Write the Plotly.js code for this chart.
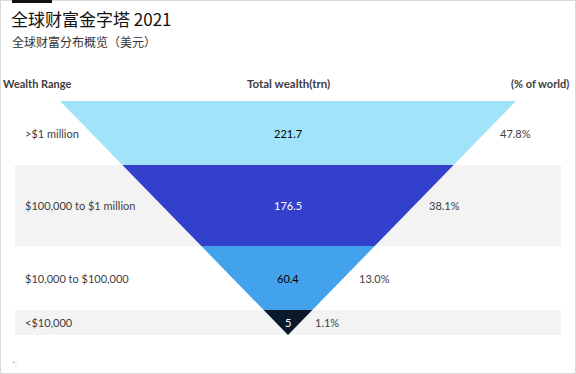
<!DOCTYPE html>
<html>
<head>
<meta charset="utf-8">
<script src="https://cdn.plot.ly/plotly-3.0.1.min.js"></script>
<style>
  html, body { margin: 0; padding: 0; background: #fff; }
  #wrap { position: relative; width: 576px; height: 374px; }
  #chart { width: 576px; height: 374px; }
  #frame { position: absolute; left: 0; top: 0; width: 576px; height: 374px; box-sizing: border-box; border: 1px solid #d9d9d9; pointer-events: none; }
  #bar { position: absolute; left: 12px; top: 0; width: 40px; height: 3px; background: #111; pointer-events: none; }
</style>
</head>
<body>
<div id="wrap">
  <div id="chart"></div>
  <div id="frame"></div>
  <div id="bar"></div>
</div>
<script>
// ---- data ----
const wealthRanges = ['>$1 million', '$100,000 to $1 million', '$10,000 to $100,000', '<$10,000'];
const totalWealth = [221.7, 176.5, 60.4, 5];
const shareOfWorld = [47.8, 38.1, 13.0, 1.1];
const headers = ['Wealth Range', 'Total wealth(trn)', '(% of world)'];
const titleText = '全球财富金字塔 2021';
const subtitleText = '全球财富分布概览（美元）';

// ---- layout constants (band edges in y units, apex = 0) ----
const bandEdges = [234, 170, 89, 25, 0];
const topHalf = 228;
const fillColors = ['#a1e4f9', '#3340cc', '#42a2eb', '#0b1a2b'];
const valueColors = ['#000000', '#ffffff', '#000000', '#ffffff'];
const shaded = [false, true, false, true];
const FONT = 'Lato, "Open Sans", "Liberation Sans", sans-serif';
const CJK = '"Noto Sans CJK SC", "Noto Sans", sans-serif';

function half(h) { return h * topHalf / bandEdges[0]; }

const traces = wealthRanges.map((name, i) => {
  const yTop = bandEdges[i], yBot = bandEdges[i + 1];
  return {
    type: 'scatter', mode: 'lines', fill: 'toself',
    x: [-half(yTop), half(yTop), half(yBot), -half(yBot), -half(yTop)],
    y: [yTop, yTop, yBot, yBot, yTop],
    fillcolor: fillColors[i], line: { width: 0, color: fillColors[i] },
    hoverinfo: 'skip', showlegend: false, name: name
  };
});

const shapes = [];
const annotations = [];
wealthRanges.forEach((name, i) => {
  const yTop = bandEdges[i], yBot = bandEdges[i + 1];
  const mid = (yTop + yBot) / 2;
  if (shaded[i]) {
    shapes.push({ type: 'rect', xref: 'paper', yref: 'y', x0: 0, x1: 1, y0: yBot, y1: yTop,
      fillcolor: '#f3f3f3', line: { width: 0 }, layer: 'below' });
  }
  annotations.push({ xref: 'paper', yref: 'y', x: 0.015, y: mid, xanchor: 'left', yanchor: 'middle',
    text: name, showarrow: false, font: { family: FONT, size: 11, color: '#404040' } });
  annotations.push({ xref: 'x', yref: 'y', x: 0, y: mid, xanchor: 'center', yanchor: 'middle',
    text: totalWealth[i].toString(), showarrow: false, font: { family: FONT, size: 11, color: valueColors[i] } });
  annotations.push({ xref: 'x', yref: 'y', x: half(mid) + 13, y: mid, xanchor: 'left', yanchor: 'middle',
    text: shareOfWorld[i].toFixed(1) + '%', showarrow: false, font: { family: FONT, size: 11, color: '#404040' } });
});

// headers (above the plot area, paper coords)
const hy = 1 + 18 / 234;
annotations.push({ xref: 'paper', yref: 'paper', x: -0.025, y: hy, xanchor: 'left', yanchor: 'middle',
  text: '<b>' + headers[0] + '</b>', showarrow: false, font: { family: FONT, size: 11, color: '#404040' } });
annotations.push({ xref: 'paper', yref: 'paper', x: 0.5, y: hy, xanchor: 'center', yanchor: 'middle',
  text: '<b>' + headers[1] + '</b>', showarrow: false, font: { family: FONT, size: 11.5, color: '#404040' } });
annotations.push({ xref: 'paper', yref: 'paper', x: 1.018, y: hy, xanchor: 'right', yanchor: 'middle',
  text: '<b>' + headers[2] + '</b>', showarrow: false, font: { family: FONT, size: 11, color: '#404040' } });

// subtitle and footnote
annotations.push({ xref: 'paper', yref: 'paper', x: -5 / 546, y: 1 + (101 - 41) / 234, xanchor: 'left', yanchor: 'middle',
  text: subtitleText, showarrow: false, font: { family: CJK, size: 12, color: '#333333' } });
annotations.push({ xref: 'paper', yref: 'paper', x: -5 / 546, y: -(364 - 335) / 234, xanchor: 'left', yanchor: 'middle',
  text: '*:', showarrow: false, font: { family: FONT, size: 7, color: '#aaaaaa' } });

const layout = {
  width: 576, height: 374,
  margin: { l: 15, r: 15, t: 101, b: 39, pad: 0 },
  paper_bgcolor: '#ffffff', plot_bgcolor: 'rgba(0,0,0,0)',
  title: { text: titleText, xref: 'container', yref: 'container', x: 11 / 576, xanchor: 'left',
    y: 1 - 20 / 374, yanchor: 'middle', font: { family: CJK, size: 17, color: '#111111' } },
  xaxis: { range: [-273, 273], visible: false, fixedrange: true },
  yaxis: { range: [0, 234], visible: false, fixedrange: true },
  shapes: shapes, annotations: annotations,
  showlegend: false, hovermode: false
};

Plotly.newPlot('chart', traces, layout, { displayModeBar: false, staticPlot: true });
</script>
</body>
</html>
